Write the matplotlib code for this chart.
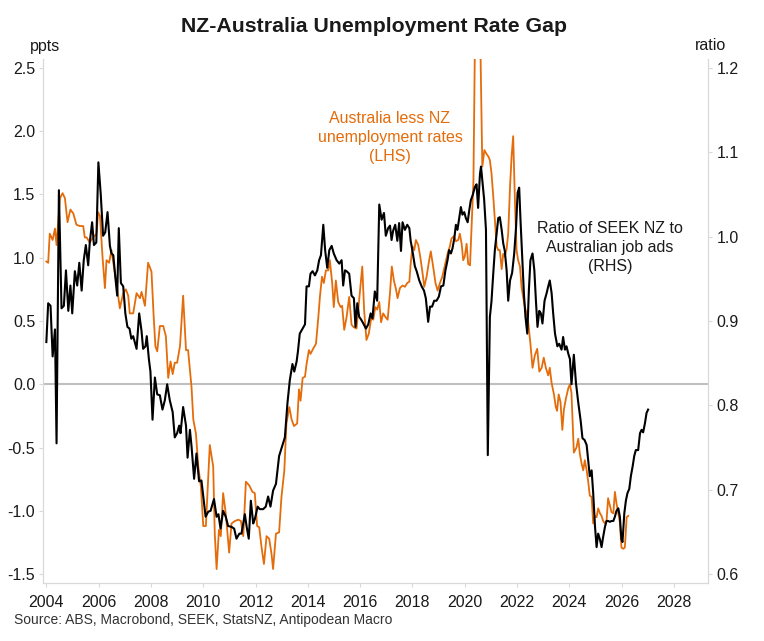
import matplotlib
matplotlib.use("Agg")
import matplotlib.pyplot as plt

plt.rcParams['font.family'] = ['Liberation Sans', 'DejaVu Sans']

# Australia less NZ unemployment rate (ppts)
gap_dates = [
    2004.00, 2004.07, 2004.13, 2004.24, 2004.33, 2004.39, 2004.52, 2004.62, 2004.71, 2004.81,
    2004.92, 2005.03, 2005.15, 2005.28, 2005.41, 2005.47, 2005.54, 2005.66, 2005.79, 2005.92,
    2005.98, 2006.05, 2006.11, 2006.15, 2006.24, 2006.30, 2006.40, 2006.49, 2006.56, 2006.68,
    2006.81, 2006.94, 2007.04, 2007.13, 2007.19, 2007.32, 2007.45, 2007.58, 2007.64, 2007.77,
    2007.89, 2008.02, 2008.10, 2008.17, 2008.24, 2008.34, 2008.47, 2008.57, 2008.66, 2008.75,
    2008.83, 2008.91, 2009.00, 2009.11, 2009.23, 2009.34, 2009.42, 2009.55, 2009.62, 2009.72,
    2009.81, 2009.91, 2010.00, 2010.10, 2010.25, 2010.38, 2010.44, 2010.51, 2010.60, 2010.67,
    2010.76, 2010.86, 2010.99, 2011.08, 2011.21, 2011.34, 2011.44, 2011.53, 2011.63, 2011.76,
    2011.88, 2011.97, 2012.06, 2012.14, 2012.23, 2012.32, 2012.42, 2012.52, 2012.61, 2012.67,
    2012.78, 2012.90, 2012.99, 2013.10, 2013.18, 2013.29, 2013.38, 2013.47, 2013.59, 2013.66,
    2013.72, 2013.80, 2013.89, 2013.95, 2014.04, 2014.10, 2014.20, 2014.31, 2014.40, 2014.46,
    2014.54, 2014.61, 2014.69, 2014.78, 2014.84, 2014.93, 2014.99, 2015.07, 2015.16, 2015.25,
    2015.31, 2015.39, 2015.48, 2015.58, 2015.67, 2015.76, 2015.86, 2015.95, 2016.01, 2016.08,
    2016.15, 2016.24, 2016.33, 2016.43, 2016.50, 2016.58, 2016.65, 2016.73, 2016.80, 2016.88,
    2016.97, 2017.05, 2017.14, 2017.21, 2017.29, 2017.37, 2017.43, 2017.52, 2017.62, 2017.71,
    2017.80, 2017.88, 2017.93, 2018.00, 2018.07, 2018.13, 2018.22, 2018.31, 2018.39, 2018.45,
    2018.54, 2018.63, 2018.70, 2018.79, 2018.88, 2018.96, 2019.05, 2019.14, 2019.24, 2019.34,
    2019.43, 2019.49, 2019.58, 2019.66, 2019.75, 2019.81, 2019.88, 2019.94, 2020.00, 2020.07,
    2020.13, 2020.20, 2020.26, 2020.33, 2020.42, 2020.50, 2020.58, 2020.67, 2020.75, 2020.83,
    2020.90, 2020.96, 2021.02, 2021.09, 2021.15, 2021.22, 2021.28, 2021.34, 2021.41, 2021.47,
    2021.53, 2021.60, 2021.66, 2021.73, 2021.79, 2021.85, 2021.92, 2021.98, 2022.04, 2022.11,
    2022.17, 2022.23, 2022.30, 2022.36, 2022.43, 2022.51, 2022.59, 2022.68, 2022.77, 2022.85,
    2022.94, 2023.02, 2023.10, 2023.19, 2023.25, 2023.32, 2023.41, 2023.48, 2023.53, 2023.59,
    2023.66, 2023.73, 2023.79, 2023.87, 2023.96, 2024.02, 2024.08, 2024.17, 2024.27, 2024.34,
    2024.40, 2024.47, 2024.53, 2024.59, 2024.66, 2024.72, 2024.78, 2024.85, 2024.91, 2024.98,
    2025.04, 2025.10, 2025.17, 2025.23, 2025.29, 2025.36, 2025.42, 2025.48, 2025.55, 2025.61,
    2025.68, 2025.74, 2025.80, 2025.87, 2025.93, 2025.99, 2026.06, 2026.12, 2026.19, 2026.25,
]
gap_ppts = [
    0.97, 0.96, 1.19, 1.14, 1.23, 1.10, 1.47, 1.51, 1.47, 1.28,
    1.38, 1.35, 1.26, 1.25, 1.25, 1.16, 1.16, 1.12, 1.16, 1.19,
    1.36, 1.33, 1.14, 1.00, 0.76, 0.98, 0.96, 1.06, 0.96, 0.80,
    0.60, 0.72, 0.75, 0.70, 0.56, 0.56, 0.72, 0.68, 0.73, 0.62,
    0.96, 0.89, 0.55, 0.30, 0.26, 0.46, 0.46, 0.38, 0.05, 0.18,
    0.08, 0.17, 0.17, 0.30, 0.70, 0.27, 0.27, -0.02, -0.28, -0.39,
    -0.65, -0.81, -1.12, -1.12, -0.48, -0.65, -1.18, -1.46, -1.15, -1.20,
    -0.86, -1.02, -1.33, -1.10, -1.08, -1.07, -1.08, -1.20, -0.77, -0.80,
    -0.85, -0.86, -1.12, -1.13, -1.29, -1.42, -1.20, -1.22, -1.34, -1.46,
    -1.18, -1.17, -0.89, -0.68, -0.31, -0.18, -0.28, -0.33, -0.31, -0.04,
    -0.13, 0.05, 0.06, 0.16, 0.27, 0.24, 0.28, 0.32, 0.53, 0.69,
    0.85, 0.80, 0.90, 0.90, 0.98, 0.80, 0.61, 0.82, 0.65, 0.61,
    0.62, 0.43, 0.53, 0.69, 0.47, 0.45, 0.44, 0.64, 0.77, 0.93,
    0.59, 0.35, 0.40, 0.53, 0.51, 0.61, 0.59, 0.65, 0.49, 0.56,
    0.53, 0.51, 0.72, 0.93, 0.82, 0.75, 0.68, 0.76, 0.78, 0.77,
    0.80, 0.81, 0.95, 1.09, 1.06, 1.14, 1.10, 0.99, 0.87, 0.77,
    0.85, 0.97, 1.05, 0.93, 0.80, 0.74, 0.80, 0.85, 0.94, 1.03,
    1.09, 1.15, 1.17, 1.13, 1.14, 1.19, 1.11, 0.98, 1.01, 1.11,
    0.95, 0.94, 1.24, 1.60, 3.30, 3.40, 2.90, 1.72, 1.85, 1.82,
    1.80, 1.77, 1.67, 1.48, 1.30, 1.09, 1.06, 1.06, 0.91, 1.03,
    1.01, 1.07, 1.19, 1.56, 1.80, 1.96, 1.43, 1.06, 0.98, 0.93,
    0.77, 0.69, 0.61, 0.56, 0.48, 0.32, 0.13, 0.23, 0.28, 0.10,
    0.13, 0.21, 0.13, 0.07, 0.13, 0.01, -0.08, -0.18, -0.21, -0.08,
    -0.14, -0.36, -0.20, -0.11, -0.03, 0.00, -0.07, -0.54, -0.50, -0.43,
    -0.55, -0.63, -0.68, -0.60, -0.68, -0.77, -0.88, -0.89, -1.10, -1.04,
    -1.05, -0.98, -1.02, -1.04, -1.08, -1.10, -1.08, -0.90, -0.96, -1.01,
    -1.02, -0.85, -0.94, -1.02, -1.09, -1.29, -1.30, -1.29, -1.05, -1.04,
]

# SEEK NZ / Australian job ads ratio
ads_dates = [
    2004.00, 2004.07, 2004.16, 2004.24, 2004.33, 2004.39, 2004.48, 2004.58, 2004.67, 2004.75,
    2004.84, 2004.92, 2004.99, 2005.09, 2005.18, 2005.26, 2005.35, 2005.43, 2005.51, 2005.60,
    2005.66, 2005.75, 2005.82, 2005.91, 2005.99, 2006.08, 2006.17, 2006.25, 2006.34, 2006.43,
    2006.49, 2006.56, 2006.64, 2006.71, 2006.77, 2006.85, 2006.94, 2007.02, 2007.10, 2007.18,
    2007.25, 2007.32, 2007.45, 2007.55, 2007.64, 2007.70, 2007.79, 2007.84, 2007.92, 2007.98,
    2008.06, 2008.15, 2008.24, 2008.34, 2008.44, 2008.53, 2008.62, 2008.72, 2008.83, 2008.91,
    2009.00, 2009.08, 2009.13, 2009.23, 2009.34, 2009.40, 2009.49, 2009.55, 2009.65, 2009.74,
    2009.84, 2009.93, 2010.00, 2010.09, 2010.19, 2010.28, 2010.41, 2010.51, 2010.58, 2010.66,
    2010.76, 2010.86, 2010.95, 2011.08, 2011.18, 2011.27, 2011.38, 2011.46, 2011.59, 2011.66,
    2011.74, 2011.82, 2011.91, 2011.97, 2012.08, 2012.16, 2012.29, 2012.39, 2012.48, 2012.57,
    2012.67, 2012.78, 2012.90, 2013.03, 2013.12, 2013.22, 2013.31, 2013.41, 2013.48, 2013.57,
    2013.62, 2013.69, 2013.78, 2013.89, 2013.95, 2014.04, 2014.10, 2014.18, 2014.27, 2014.36,
    2014.43, 2014.50, 2014.59, 2014.66, 2014.74, 2014.82, 2014.91, 2014.99, 2015.10, 2015.20,
    2015.29, 2015.35, 2015.42, 2015.48, 2015.58, 2015.67, 2015.76, 2015.82, 2015.89, 2015.96,
    2016.03, 2016.12, 2016.22, 2016.31, 2016.40, 2016.47, 2016.56, 2016.65, 2016.73, 2016.82,
    2016.91, 2016.98, 2017.07, 2017.14, 2017.20, 2017.26, 2017.34, 2017.42, 2017.49, 2017.56,
    2017.62, 2017.71, 2017.80, 2017.88, 2017.93, 2018.00, 2018.09, 2018.16, 2018.26, 2018.35,
    2018.44, 2018.51, 2018.60, 2018.67, 2018.75, 2018.83, 2018.92, 2019.01, 2019.09, 2019.18,
    2019.26, 2019.34, 2019.40, 2019.47, 2019.53, 2019.60, 2019.66, 2019.72, 2019.79, 2019.85,
    2019.91, 2019.98, 2020.04, 2020.11, 2020.17, 2020.23, 2020.30, 2020.39, 2020.45, 2020.51,
    2020.58, 2020.62, 2020.68, 2020.74, 2020.81, 2020.88, 2020.96, 2021.02, 2021.09, 2021.15,
    2021.22, 2021.28, 2021.34, 2021.41, 2021.47, 2021.53, 2021.60, 2021.66, 2021.73, 2021.81,
    2021.89, 2021.96, 2022.02, 2022.08, 2022.13, 2022.20, 2022.26, 2022.32, 2022.39, 2022.45,
    2022.51, 2022.59, 2022.66, 2022.72, 2022.78, 2022.85, 2022.91, 2022.97, 2023.05, 2023.13,
    2023.19, 2023.25, 2023.32, 2023.38, 2023.45, 2023.54, 2023.61, 2023.70, 2023.76, 2023.83,
    2023.89, 2023.96, 2024.02, 2024.08, 2024.17, 2024.25, 2024.34, 2024.43, 2024.50, 2024.58,
    2024.66, 2024.72, 2024.78, 2024.85, 2024.91, 2024.98, 2025.04, 2025.10, 2025.17, 2025.23,
    2025.29, 2025.36, 2025.42, 2025.48, 2025.55, 2025.61, 2025.68, 2025.74, 2025.80, 2025.87,
    2025.93, 2025.99, 2026.03, 2026.10, 2026.16, 2026.22, 2026.29, 2026.35, 2026.42, 2026.48,
    2026.54, 2026.63, 2026.70, 2026.76, 2026.82, 2026.89, 2026.95, 2027.01,
]
ads_ratio = [
    0.875, 0.921, 0.918, 0.858, 0.890, 0.755, 1.055, 0.915, 0.918, 0.960,
    0.912, 0.942, 0.909, 0.959, 0.942, 0.969, 0.936, 0.972, 0.990, 0.966,
    0.993, 1.017, 0.990, 0.993, 1.088, 1.050, 1.001, 1.005, 1.029, 0.989,
    0.980, 0.978, 0.951, 0.930, 1.010, 0.945, 0.941, 0.909, 0.893, 0.891,
    0.879, 0.882, 0.867, 0.909, 0.888, 0.867, 0.870, 0.882, 0.855, 0.840,
    0.783, 0.833, 0.813, 0.812, 0.795, 0.806, 0.825, 0.806, 0.792, 0.762,
    0.767, 0.776, 0.767, 0.798, 0.776, 0.738, 0.771, 0.752, 0.713, 0.743,
    0.710, 0.711, 0.692, 0.668, 0.674, 0.675, 0.689, 0.668, 0.671, 0.654,
    0.675, 0.668, 0.657, 0.656, 0.654, 0.642, 0.648, 0.648, 0.671, 0.656,
    0.642, 0.687, 0.660, 0.665, 0.680, 0.677, 0.677, 0.680, 0.692, 0.680,
    0.699, 0.707, 0.740, 0.753, 0.762, 0.803, 0.830, 0.849, 0.840, 0.852,
    0.864, 0.885, 0.890, 0.896, 0.941, 0.941, 0.956, 0.959, 0.954, 0.960,
    0.972, 0.978, 1.014, 0.984, 0.963, 0.984, 0.989, 0.980, 0.972, 0.968,
    0.972, 0.942, 0.960, 0.959, 0.956, 0.930, 0.927, 0.893, 0.921, 0.905,
    0.902, 0.897, 0.891, 0.896, 0.909, 0.903, 0.935, 0.924, 1.038, 1.020,
    1.028, 1.001, 1.010, 1.013, 0.996, 1.007, 1.014, 0.995, 1.016, 0.983,
    1.017, 1.008, 1.014, 1.010, 0.995, 0.983, 0.965, 0.959, 0.948, 0.941,
    0.936, 0.927, 0.899, 0.917, 0.917, 0.924, 0.924, 0.929, 0.941, 0.942,
    0.960, 0.972, 0.984, 0.980, 0.986, 0.998, 1.014, 1.008, 1.023, 1.035,
    1.026, 1.029, 1.022, 1.017, 1.031, 1.043, 1.049, 1.059, 1.062, 1.034,
    1.074, 1.083, 1.064, 1.044, 1.008, 0.741, 0.905, 0.923, 0.957, 0.984,
    1.004, 1.022, 1.023, 1.008, 0.992, 0.983, 0.960, 0.924, 0.948, 0.957,
    0.980, 1.011, 1.052, 1.058, 1.020, 0.972, 0.933, 0.905, 0.885, 0.936,
    0.972, 0.980, 0.960, 0.924, 0.893, 0.912, 0.909, 0.897, 0.924, 0.933,
    0.941, 0.948, 0.933, 0.909, 0.885, 0.870, 0.873, 0.866, 0.881, 0.866,
    0.870, 0.861, 0.855, 0.825, 0.860, 0.827, 0.803, 0.782, 0.761, 0.759,
    0.753, 0.735, 0.716, 0.723, 0.696, 0.656, 0.632, 0.648, 0.641, 0.632,
    0.644, 0.656, 0.663, 0.663, 0.662, 0.663, 0.663, 0.668, 0.675, 0.678,
    0.668, 0.641, 0.638, 0.672, 0.687, 0.696, 0.701, 0.716, 0.728, 0.740,
    0.747, 0.747, 0.767, 0.771, 0.768, 0.779, 0.791, 0.795,
]

year_ticks = [2004, 2006, 2008, 2010, 2012, 2014, 2016, 2018, 2020, 2022, 2024, 2026, 2028]
left_ticks = [-1.5, -1.0, -0.5, 0.0, 0.5, 1.0, 1.5, 2.0, 2.5]
right_ticks = [0.6, 0.7, 0.8, 0.9, 1.0, 1.1, 1.2]

orange = '#E46C0A'
spine_col = '#D9D9D9'

fig = plt.figure(figsize=(7.64, 6.41), dpi=100)
ax = fig.add_axes([0.0569, 0.0905, 0.8698, 0.8175])
ax2 = ax.twinx()

ax.axhline(0, color='#BFBFBF', lw=1.5, zorder=1)
ax.plot(gap_dates, gap_ppts, color=orange, lw=1.3, zorder=2)
ax2.plot(ads_dates, ads_ratio, color='black', lw=1.5)

ax.set_xlim(2003.89, 2029.3)
ax.set_ylim(-1.57, 2.57)
ax2.set_ylim(0.5895, 1.2105)

ax.set_xticks(year_ticks)
ax.set_yticks(left_ticks)
ax.set_yticklabels([f'{v:.1f}' for v in left_ticks])
ax2.set_yticks(right_ticks)
ax2.set_yticklabels([f'{v:.1f}' for v in right_ticks])

for a in (ax, ax2):
    for side in a.spines:
        a.spines[side].set_color(spine_col)
    a.spines['top'].set_visible(False)
    a.tick_params(labelsize=11.5, colors=spine_col, labelcolor='#1a1a1a',
                  length=3, width=0.8)
ax.tick_params(axis='x', pad=6)
ax.tick_params(axis='y', pad=3)
ax2.tick_params(axis='y', pad=3)

ax.text(2017.14, 1.95, 'Australia less NZ\nunemployment rates\n(LHS)',
        color=orange, fontsize=11.5, ha='center', va='center', linespacing=1.35)
ax.text(2025.55, 1.08, 'Ratio of SEEK NZ to\nAustralian job ads\n(RHS)',
        color='#1a1a1a', fontsize=11.5, ha='center', va='center', linespacing=1.35)

fig.text(374 / 764, 1 - 26 / 641, 'NZ-Australia Unemployment Rate Gap',
         fontsize=15.3, fontweight='bold', ha='center', va='center', color='#1a1a1a')
fig.text(45 / 764, 1 - 46 / 641, 'ppts', fontsize=11.5, ha='center', va='center', color='#1a1a1a')
fig.text(710 / 764, 1 - 46 / 641, 'ratio', fontsize=11.5, ha='center', va='center', color='#1a1a1a')
fig.text(14 / 764, 1 - 620 / 641, 'Source: ABS, Macrobond, SEEK, StatsNZ, Antipodean Macro',
         fontsize=10, ha='left', va='center', color='#333333')

fig.savefig('out.png', dpi=100)
